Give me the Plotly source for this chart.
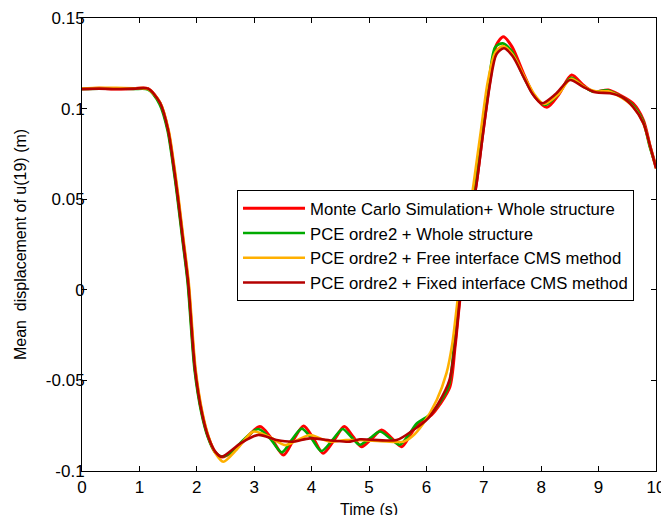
import plotly.graph_objects as go

# ---- data ----
t_mc = [0, 0.3, 0.6, 0.9, 1.15, 1.36, 1.5, 1.59, 1.67, 1.76, 1.85, 1.97, 2.09, 2.2, 2.32, 2.44,
        2.6, 2.8, 3.1, 3.3, 3.51, 3.68, 3.86, 4.03, 4.2, 4.39, 4.57, 4.72, 4.87, 5.05, 5.22, 5.4,
        5.57, 5.72, 5.86, 6.09, 6.24, 6.41, 6.5, 6.59, 6.72, 6.88, 6.99, 7.11, 7.22, 7.34, 7.49,
        7.69, 7.89, 8.1, 8.3, 8.53, 8.73, 8.91, 9.17, 9.37, 9.6, 9.78, 9.9, 10]
y_mc = [0.1108, 0.1112, 0.1108, 0.1110, 0.1110, 0.1031, 0.0882, 0.070, 0.0512, 0.0275, 0.004,
        -0.044, -0.068, -0.0812, -0.0895, -0.0923, -0.0900, -0.0840, -0.0755, -0.0820, -0.0912,
        -0.0830, -0.0752, -0.0820, -0.0902, -0.0830, -0.0755, -0.0810, -0.0866, -0.0820, -0.0774,
        -0.0820, -0.0866, -0.0800, -0.0737, -0.0690, -0.0630, -0.0535, -0.0314, -0.0034, 0.028,
        0.0606, 0.0882, 0.1158, 0.1351, 0.1397, 0.1342, 0.1195, 0.1066, 0.1007, 0.1075, 0.1185,
        0.1130, 0.1093, 0.1103, 0.1075, 0.1029, 0.0937, 0.079, 0.068]

t_pce = [0, 0.3, 0.6, 0.9, 1.15, 1.35, 1.49, 1.58, 1.66, 1.75, 1.84, 1.96, 2.08, 2.19, 2.31, 2.43,
         2.6, 2.78, 3.07, 3.28, 3.48, 3.65, 3.83, 4.0, 4.17, 4.36, 4.54, 4.69, 4.84, 5.02, 5.19,
         5.37, 5.54, 5.7, 5.84, 6.07, 6.22, 6.39, 6.48, 6.57, 6.7, 6.86, 6.97, 7.09, 7.2, 7.33,
         7.48, 7.68, 7.88, 8.07, 8.28, 8.52, 8.72, 8.9, 9.16, 9.36, 9.58, 9.77, 9.89, 10]
y_pce = [0.1108, 0.1110, 0.1110, 0.1108, 0.1105, 0.1025, 0.0880, 0.070, 0.0512, 0.0275, 0.004,
         -0.044, -0.068, -0.0812, -0.0893, -0.0920, -0.0898, -0.0838, -0.0768, -0.0822, -0.0897,
         -0.0830, -0.0766, -0.0822, -0.0890, -0.0830, -0.0768, -0.0812, -0.0855, -0.0818,
         -0.0782, -0.0820, -0.0855, -0.0795, -0.0735, -0.0688, -0.0628, -0.0530, -0.0310, -0.0030,
         0.028, 0.0606, 0.0882, 0.1158, 0.1340, 0.1360, 0.1320, 0.1185, 0.1070, 0.1020, 0.1075,
         0.1170, 0.1125, 0.1095, 0.1100, 0.1072, 0.1025, 0.0935, 0.079, 0.068]

t_free = [0, 0.3, 0.6, 0.9, 1.15, 1.37, 1.51, 1.6, 1.68, 1.77, 1.86, 1.98, 2.1, 2.21, 2.33, 2.46,
          2.7, 2.98, 3.25, 3.54, 3.75, 3.97, 4.15, 4.32, 4.6, 4.9, 5.2, 5.6, 5.75, 5.94, 6.18, 6.35,
          6.45, 6.55, 6.68, 6.82, 6.95, 7.07, 7.2, 7.33, 7.5, 7.7, 7.9, 8.05, 8.3, 8.52, 8.75, 8.95,
          9.17, 9.4, 9.6, 9.78, 9.9, 10]
y_free = [0.1110, 0.1115, 0.1115, 0.1112, 0.1108, 0.1028, 0.0880, 0.070, 0.0512, 0.0275, 0.004,
          -0.044, -0.068, -0.0815, -0.0905, -0.0949, -0.0880, -0.0783, -0.0810, -0.0857, -0.0830,
          -0.0801, -0.0820, -0.0838, -0.0829, -0.0830, -0.0835, -0.0838, -0.0810, -0.0740,
          -0.0608, -0.0460, -0.0300, -0.0040, 0.0270, 0.0580, 0.0880, 0.1150, 0.1310, 0.1345,
          0.1300, 0.1180, 0.1070, 0.1025, 0.1080, 0.1165, 0.1120, 0.1095, 0.1095, 0.1060, 0.1010,
          0.0920, 0.079, 0.067]

t_fixed = [0, 0.3, 0.6, 0.9, 1.15, 1.36, 1.5, 1.59, 1.67, 1.76, 1.85, 1.97, 2.09, 2.2, 2.32, 2.43,
           2.75, 3.07, 3.39, 3.68, 3.97, 4.38, 4.67, 4.84, 5.48, 5.77, 6.03, 6.21, 6.4, 6.5, 6.59,
           6.72, 6.88, 6.99, 7.11, 7.22, 7.35, 7.5, 7.7, 7.85, 8.01, 8.25, 8.5, 8.73, 8.95, 9.2,
           9.4, 9.6, 9.78, 9.9, 10]
y_fixed = [0.1108, 0.1110, 0.1108, 0.1110, 0.1110, 0.1031, 0.0882, 0.070, 0.0512, 0.0275, 0.004,
           -0.044, -0.068, -0.0812, -0.0893, -0.0921, -0.0850, -0.0801, -0.0829, -0.0838, -0.0820,
           -0.0833, -0.0838, -0.0825, -0.0829, -0.0774, -0.0709, -0.0626, -0.0500, -0.0300,
           -0.0030, 0.0280, 0.0600, 0.0870, 0.1140, 0.1300, 0.1333, 0.1290, 0.1170, 0.1080,
           0.1029, 0.1080, 0.1158, 0.1120, 0.1090, 0.1085, 0.1065, 0.1010, 0.0920, 0.079, 0.067]

names = ["Monte Carlo Simulation+ Whole structure",
         "PCE ordre2 + Whole structure",
         "PCE ordre2 + Free interface CMS method",
         "PCE ordre2 + Fixed interface CMS method"]
colors = ["#FF0000", "#00AA00", "#FFB000", "#B40000"]
widths = [3, 2.6, 2.6, 2.6]
series = [(t_mc, y_mc), (t_pce, y_pce), (t_free, y_free), (t_fixed, y_fixed)]

y_ticks = [-0.1, -0.05, 0, 0.05, 0.1, 0.15]
y_tick_text = ["-0.1", "-0.05", "0", "0.05", "0.1", "0.15"]
x_ticks = list(range(0, 11))
x_title = "Time (s)"
y_title = "Mean  displacement of u(19) (m)"

FONT = "Liberation Sans, Arial, sans-serif"

fig = go.Figure()
for (tx, ty), nm, c, w in zip(series, names, colors, widths):
    fig.add_trace(go.Scatter(x=tx, y=ty, mode="lines", name=nm,
                             line=dict(color=c, width=w, shape="spline", smoothing=0.8)))

fig.update_layout(
    width=661, height=515,
    margin=dict(l=82, r=5, t=18, b=44, autoexpand=False),
    paper_bgcolor="white", plot_bgcolor="white",
    font=dict(family=FONT, size=17, color="black"),
    showlegend=True,
    legend=dict(x=(237 - 82) / 574, y=(471 - 190) / 453, xanchor="left", yanchor="top",
                bgcolor="white", bordercolor="black", borderwidth=1,
                font=dict(family=FONT, size=16.7, color="black"),
                itemwidth=62, tracegroupgap=0),
    annotations=[dict(text=x_title, xref="paper", yref="paper", x=0.5, y=(471 - 509) / 453,
                      xanchor="center", yanchor="middle", showarrow=False,
                      font=dict(family=FONT, size=16, color="black"))],
)
fig.update_xaxes(range=[0, 10], tickvals=x_ticks, ticks="inside", ticklen=5,
                 showline=True, linecolor="black", linewidth=1, mirror="ticks",
                 showgrid=False, zeroline=False, tickcolor="black", automargin=False,
                 tickfont=dict(size=17), ticklabeloverflow="allow", ticklabelstandoff=1)
fig.update_yaxes(range=[-0.1, 0.15], tickvals=y_ticks, ticktext=y_tick_text,
                 ticks="inside", ticklen=5, ticklabelstandoff=-7, automargin=False,
                 showline=True, linecolor="black", linewidth=1, mirror="ticks",
                 showgrid=False, zeroline=False, tickcolor="black",
                 tickfont=dict(size=17),
                 title=dict(text=y_title, font=dict(size=16), standoff=15))

fig.write_html("out.html")
